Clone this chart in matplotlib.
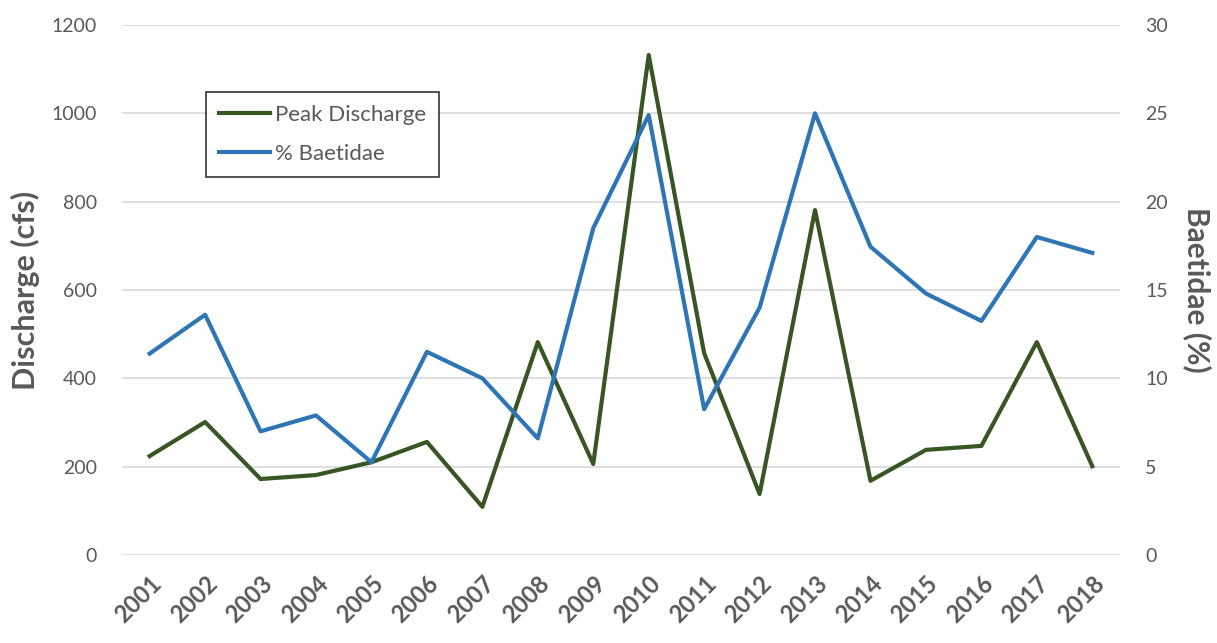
import numpy as np
import matplotlib.pyplot as plt
from matplotlib.lines import Line2D

years = ['2001', '2002', '2003', '2004', '2005', '2006', '2007', '2008', '2009',
         '2010', '2011', '2012', '2013', '2014', '2015', '2016', '2017', '2018']
discharge = [224, 301, 172, 181, 210, 256, 109, 482, 206,
             1132, 457, 138, 781, 168, 238, 247, 482, 201]
baetidae = [11.4, 13.6, 7.0, 7.9, 5.25, 11.5, 10.0, 6.6, 18.5,
            24.9, 8.25, 14.0, 25.0, 17.45, 14.8, 13.25, 18.0, 17.1]

green = '#375623'
blue = '#2E75B6'
grey = '#595959'
font = ['Lato', 'DejaVu Sans']
plt.rcParams['font.family'] = font

fig = plt.figure(figsize=(12.17, 6.43), dpi=100)
ax = fig.add_axes([0.1002, 0.1369, 0.8201, 0.8242])
ax2 = ax.twinx()

x = np.arange(len(years))
ax.plot(x, discharge, color=green, lw=3, zorder=3)
ax2.plot(x, baetidae, color=blue, lw=3, zorder=3)

ax.set_xlim(-0.5, len(years) - 0.5)
ax.set_ylim(0, 1200)
ax.set_yticks(range(0, 1201, 200))
ax2.set_ylim(0, 30)
ax2.set_yticks(range(0, 31, 5))
ax.grid(axis='y', color='#D9D9D9', lw=1.2)
ax.set_axisbelow(True)

for a in (ax, ax2):
    for s in a.spines.values():
        s.set_visible(False)
    a.tick_params(length=0, labelsize=14, labelcolor=grey)
ax.tick_params(axis='y', pad=18)
ax2.tick_params(axis='y', pad=18)

ax.set_xticks(x)
ax.set_xticklabels(years, rotation=45, ha='right', rotation_mode='anchor',
                   fontsize=17, fontweight='bold', color=grey)
ax.tick_params(axis='x', pad=12)

ax.set_ylabel('Discharge (cfs)', fontsize=22, fontweight='bold', color=grey, labelpad=8)
ax2.set_ylabel('Baetidae (%)', fontsize=21.5, fontweight='bold', color=grey,
               rotation=270, labelpad=32)

handles = [Line2D([], [], color=green, lw=3), Line2D([], [], color=blue, lw=3)]
leg = ax.legend(handles, ['Peak Discharge', '% Baetidae'], loc='upper left',
                bbox_to_anchor=(0.084, 0.874), fontsize=16, frameon=True, fancybox=False,
                handlelength=2.3, handletextpad=0.2, borderpad=0.6, labelspacing=0.85,
                borderaxespad=0)
leg.get_frame().set_edgecolor('black')
leg.get_frame().set_linewidth(1.2)
for t in leg.get_texts():
    t.set_color(grey)

fig.savefig('out.png', dpi=100)
